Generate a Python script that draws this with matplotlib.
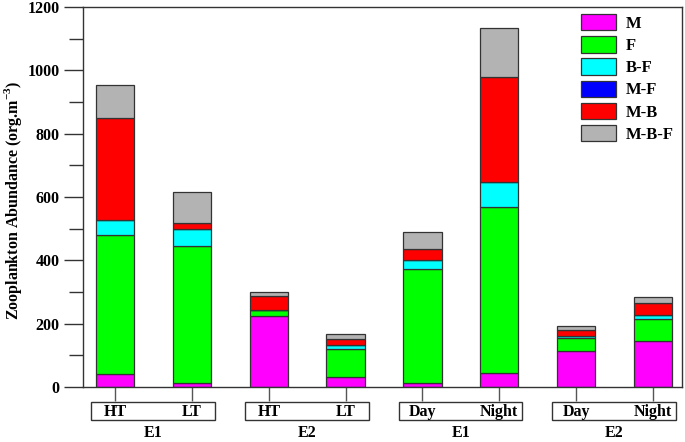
import numpy as np
import matplotlib
matplotlib.use('Agg')
import matplotlib.pyplot as plt
from matplotlib.patches import Rectangle
import matplotlib.transforms as mtransforms

plt.rcParams['font.family'] = 'Liberation Serif'
plt.rcParams['font.weight'] = 'bold'
plt.rcParams['mathtext.fontset'] = 'custom'
plt.rcParams['mathtext.rm'] = 'Liberation Serif:bold'
plt.rcParams['mathtext.bf'] = 'Liberation Serif:bold'

# sampling groups
sub_labels = ['HT', 'LT', 'HT', 'LT', 'Day', 'Night', 'Day', 'Night']
group_labels = ['E1', 'E2', 'E1', 'E2']

# stacked components (org.m-3)
series_names = ['M', 'F', 'B-F', 'M-F', 'M-B', 'M-B-F']
m_vals = [40, 12, 224, 33, 12, 43, 115, 145]
f_vals = [439, 433, 20, 86, 362, 526, 41, 69]
bf_vals = [49, 55, 0, 14, 27, 79, 5, 14]
mf_vals = [0, 0, 0, 0, 0, 0, 0, 0]
mb_vals = [320, 18, 43, 18, 35, 331, 19, 37]
mbf_vals = [107, 97, 14, 15, 55, 154, 12, 19]

colors = ['#FF00FF', '#00FF00', '#00FFFF', '#0000FF', '#FF0000', '#B3B3B3']
edge = '#333333'


def main():
    fig = plt.figure(figsize=(6.85, 4.42), dpi=100)
    ax = fig.add_axes([83 / 685, 1 - 387 / 442, 599 / 685, 380 / 442])

    x = np.arange(len(sub_labels))
    data = [m_vals, f_vals, bf_vals, mf_vals, mb_vals, mbf_vals]
    bottom = np.zeros(len(x))
    for name, vals, col in zip(series_names, data, colors):
        vals = np.array(vals, dtype=float)
        ax.bar(x, vals, width=0.5, bottom=bottom, color=col, edgecolor=edge,
               linewidth=0.9, label=name)
        bottom += vals

    ax.set_xlim(-0.42, 7.38)
    ax.set_ylim(0, 1200)
    ax.set_yticks(np.arange(0, 1201, 200))
    ax.set_yticks(np.arange(100, 1200, 200), minor=True)
    ax.set_xticks(x)
    ax.set_xticklabels([])
    ax.tick_params(axis='y', which='major', direction='out', length=14, width=1,
                   color=edge, labelsize=11.5, pad=3)
    ax.tick_params(axis='y', which='minor', direction='out', length=10, width=1, color=edge)
    ax.tick_params(axis='x', direction='out', length=10, width=1, color='#555555')
    for lab in ax.get_yticklabels():
        lab.set_fontweight('bold')
    for sp in ax.spines.values():
        sp.set_color(edge)
        sp.set_linewidth(1)

    # y label placed in figure pixels so it stays inside the canvas
    fig.text(13 / 685, 1 - 200 / 442, 'Zooplankton Abundance (org.m$^{-3}$)',
             rotation=90, ha='center', va='center', fontsize=11.5, fontweight='bold')

    # grouped x labels with boxes
    trans = mtransforms.blended_transform_factory(ax.transData, ax.transAxes)
    for g in range(4):
        i, j = 2 * g, 2 * g + 1
        rect = Rectangle((i - 0.31, -0.0868), (j - i) + 0.61, 0.0473, transform=trans,
                         facecolor='none', edgecolor=edge, linewidth=1, clip_on=False)
        ax.add_patch(rect)
        ax.text(i, -0.0645, sub_labels[i], transform=trans, ha='center', va='center',
                fontsize=11.5, fontweight='bold')
        ax.text(j, -0.0645, sub_labels[j], transform=trans, ha='center', va='center',
                fontsize=11.5, fontweight='bold')
        ax.text((i + j) / 2, -0.122, group_labels[g], transform=trans, ha='center',
                va='center', fontsize=11.5, fontweight='bold')

    fs = 12 * 100 / 72
    leg = ax.legend(loc='upper left', bbox_to_anchor=((580.7 - 83) / 599, (387 - 14) / 380),
                    frameon=False, fontsize=12, borderpad=0, borderaxespad=0,
                    handlelength=35 / fs, handleheight=19 / fs, labelspacing=4.3 / fs,
                    handletextpad=10 / fs)
    for t in leg.get_texts():
        t.set_fontweight('bold')

    fig.savefig('out.png', dpi=100, facecolor='w')
    plt.close('all')


if __name__ == '__main__':
    main()
